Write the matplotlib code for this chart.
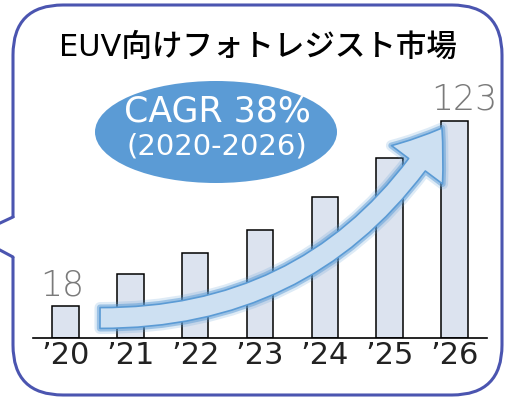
import matplotlib
matplotlib.use("Agg")
import matplotlib.pyplot as plt
from matplotlib.patches import FancyBboxPatch, Ellipse, FancyArrowPatch, ArrowStyle, Rectangle
import matplotlib.patheffects as pe

# wide latin font first, CJK font for the Japanese glyphs
plt.rcParams['font.family'] = ['DejaVu Sans', 'Noto Sans CJK JP']

# data
years = ["’20", "’21", "’22", "’23", "’24", "’25", "’26"]
market = [18, 36, 48, 61, 80, 102, 123]
shown_labels = {0: "18", 6: "123"}
title = "EUV向けフォトレジスト市場"
cagr_text = "CAGR 38%"
cagr_period = "(2020-2026)"

W, H = 505, 400
fig = plt.figure(figsize=(W / 100, H / 100), dpi=100)

# bar axes: x from 33 to 487 px, baseline at 338 px
px_per_unit = 217 / 123
top_px = 70
ax = fig.add_axes([33 / W, (H - 338) / H, (487 - 33) / W, (338 - top_px) / H])
xs = list(range(len(years)))
ax.bar(xs, market, width=0.41, color="#dce3ef", edgecolor="black", linewidth=1.1, zorder=2)
ax.set_xlim(-0.5, len(years) - 0.5)
ax.set_ylim(0, (338 - top_px) / px_per_unit)
ax.set_xticks(xs)
ax.set_xticklabels(years, fontsize=22, color="#222222")
ax.tick_params(axis="x", length=0, pad=2)
ax.set_yticks([])
for s in ["top", "left", "right"]:
    ax.spines[s].set_visible(False)
ax.spines["bottom"].set_linewidth(1.2)
ax.patch.set_alpha(0)
label_shift = {0: -2, 6: 7}
for i, txt in shown_labels.items():
    ax.annotate(txt, (xs[i], market[i]), xytext=(label_shift[i], 3), textcoords="offset points",
                ha="center", va="bottom", fontsize=25, color="#7a7a7a", fontweight="light")

# overlay in pixel coordinates for the decorations
ov = fig.add_axes([0, 0, 1, 1], zorder=5)
ov.set_xlim(0, W)
ov.set_ylim(H, 0)
ov.axis("off")
ov.patch.set_alpha(0)

border_col = "#4b55b0"
box = FancyBboxPatch((13, 5), 489, 390, boxstyle="round,pad=0,rounding_size=50",
                     facecolor="none", edgecolor=border_col, linewidth=2.2)
ov.add_patch(box)
# speech-bubble notch on the left
ov.add_patch(Rectangle((9, 218), 8, 39, facecolor="white", edgecolor="none", zorder=3))
ov.plot([13, -2], [217, 224], color=border_col, lw=2.2, zorder=4, solid_capstyle="round")
ov.plot([-2, 13], [249, 257], color=border_col, lw=2.2, zorder=4, solid_capstyle="round")

ov.text(258, 47, title, ha="center", va="center", fontsize=22, color="black",
        fontweight="medium")

ov.add_patch(Ellipse((216, 132), 242, 102, facecolor="#5b9bd5", edgecolor="none"))
ov.text(217, 112, cagr_text, ha="center", va="center", fontsize=25, color="white")
ov.text(217, 146, cagr_period, ha="center", va="center", fontsize=21, color="white")

arrow = FancyArrowPatch((100, 318), (442, 128), connectionstyle="arc3,rad=0.28",
                        arrowstyle=ArrowStyle.Simple(head_length=32, head_width=46, tail_width=15),
                        mutation_scale=1, shrinkA=0, shrinkB=0,
                        facecolor="#cde0f2", edgecolor="#5b9bd5", linewidth=1.2, zorder=6)
arrow.set_path_effects([pe.Stroke(linewidth=8, foreground="#5b9bd5", alpha=0.2),
                        pe.Stroke(linewidth=4.5, foreground="#5b9bd5", alpha=0.5),
                        pe.Normal()])
ov.add_patch(arrow)

fig.savefig("out.png", dpi=100, facecolor="white")
